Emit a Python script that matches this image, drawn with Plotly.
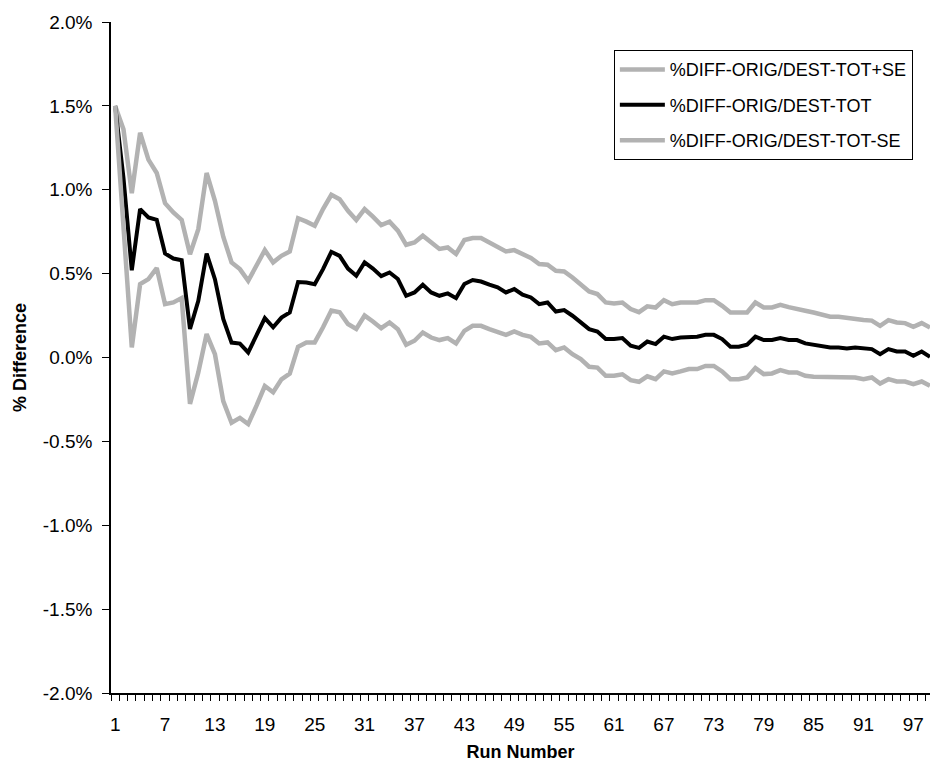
import plotly.graph_objects as go

runs = list(range(1, 100))

tot = [1.50, 1.07, 0.52, 0.885, 0.835, 0.82, 0.62, 0.59, 0.58, 0.17,
       0.338, 0.62, 0.467, 0.23, 0.089, 0.083, 0.03, 0.13, 0.235, 0.18,
       0.238, 0.268, 0.45, 0.447, 0.437, 0.527, 0.63, 0.606, 0.53, 0.487,
       0.567, 0.53, 0.485, 0.507, 0.468, 0.368, 0.388, 0.434, 0.388, 0.368,
       0.382, 0.354, 0.438, 0.462, 0.453, 0.434, 0.418, 0.388, 0.408, 0.374,
       0.358, 0.318, 0.328, 0.274, 0.283, 0.249, 0.209, 0.169, 0.155, 0.11,
       0.11, 0.116, 0.07, 0.057, 0.095, 0.08, 0.124, 0.11, 0.119, 0.124,
       0.124, 0.135, 0.135, 0.11, 0.064, 0.064, 0.076, 0.124, 0.104, 0.104,
       0.116, 0.104, 0.104, 0.084, 0.074, 0.07, 0.06, 0.06, 0.054, 0.06,
       0.057, 0.05, 0.02, 0.05, 0.036, 0.036, 0.01, 0.036, 0.004]

tot_plus_se = [1.50, 1.36, 0.98, 1.34, 1.18, 1.10, 0.92, 0.865, 0.82, 0.616,
               0.765, 1.10, 0.934, 0.72, 0.567, 0.527, 0.457, 0.547, 0.64, 0.567,
               0.606, 0.632, 0.83, 0.81, 0.785, 0.885, 0.97, 0.944, 0.875, 0.82,
               0.885, 0.84, 0.79, 0.81, 0.756, 0.672, 0.686, 0.726, 0.686, 0.647,
               0.656, 0.617, 0.70, 0.712, 0.712, 0.686, 0.66, 0.632, 0.64, 0.617,
               0.593, 0.557, 0.553, 0.517, 0.513, 0.477, 0.434, 0.394, 0.378, 0.328,
               0.322, 0.328, 0.289, 0.27, 0.305, 0.298, 0.342, 0.318, 0.328, 0.328,
               0.328, 0.342, 0.342, 0.308, 0.268, 0.268, 0.268, 0.328, 0.298, 0.298,
               0.314, 0.30, 0.292, 0.279, 0.268, 0.255, 0.243, 0.243, 0.235, 0.229,
               0.223, 0.22, 0.189, 0.223, 0.209, 0.205, 0.183, 0.205, 0.179]

tot_minus_se = [1.50, 0.78, 0.06, 0.437, 0.467, 0.533, 0.318, 0.328, 0.354, -0.276,
                -0.089, 0.14, 0.02, -0.26, -0.389, -0.36, -0.397, -0.287, -0.17, -0.207,
                -0.13, -0.096, 0.064, 0.09, 0.09, 0.18, 0.28, 0.27, 0.20, 0.17,
                0.25, 0.215, 0.175, 0.209, 0.169, 0.076, 0.10, 0.149, 0.119, 0.104,
                0.116, 0.084, 0.159, 0.189, 0.189, 0.169, 0.155, 0.135, 0.155, 0.135,
                0.123, 0.084, 0.09, 0.044, 0.06, 0.02, -0.01, -0.055, -0.06, -0.109,
                -0.109, -0.10, -0.135, -0.145, -0.112, -0.129, -0.083, -0.095, -0.083, -0.069,
                -0.069, -0.05, -0.05, -0.083, -0.129, -0.129, -0.119, -0.063, -0.099, -0.095,
                -0.075, -0.089, -0.089, -0.109, -0.115, -0.115, -0.115, -0.115, -0.115, -0.119,
                -0.129, -0.119, -0.155, -0.129, -0.143, -0.143, -0.159, -0.143, -0.169]

y_ticks = [-2.0, -1.5, -1.0, -0.5, 0.0, 0.5, 1.0, 1.5, 2.0]
y_tick_labels = ["%.1f%%" % v for v in y_ticks]
x_label_runs = list(range(1, 100, 6))

GRAY = "#b2b2b2"
FONT = "Arial, 'Liberation Sans', sans-serif"

fig = go.Figure()
fig.add_trace(go.Scatter(x=runs, y=tot_plus_se, mode="lines", name="%DIFF-ORIG/DEST-TOT+SE",
                         line=dict(color=GRAY, width=4.5), legendgroup="a"))
fig.add_trace(go.Scatter(x=runs, y=tot, mode="lines", name="%DIFF-ORIG/DEST-TOT",
                         line=dict(color="black", width=4), legendgroup="b"))
fig.add_trace(go.Scatter(x=runs, y=tot_minus_se, mode="lines", name="%DIFF-ORIG/DEST-TOT-SE",
                         line=dict(color=GRAY, width=4.5), legendgroup="c"))

fig.update_layout(
    width=930, height=769,
    margin=dict(l=111, r=0, t=22, b=76),
    paper_bgcolor="white", plot_bgcolor="white",
    font=dict(family=FONT, color="black", size=18),
    showlegend=True,
    legend=dict(x=0.614, y=0.958, xanchor="left", yanchor="top",
                bordercolor="black", borderwidth=1, bgcolor="white",
                font=dict(size=18, family=FONT), tracegroupgap=9,
                itemwidth=45, traceorder="grouped"),
    xaxis=dict(range=[0.5, 99.0], showgrid=False, zeroline=False,
               showline=True, linecolor="black", linewidth=1.5,
               tickmode="array", tickvals=x_label_runs,
               ticktext=[str(v) for v in x_label_runs],
               ticks="", tickfont=dict(size=19), ticklabelstandoff=13,
               minor=dict(tickmode="array", tickvals=[r + 0.5 for r in range(0, 99)],
                          ticks="outside", ticklen=6, tickwidth=1, tickcolor="black",
                          showgrid=False),
               title=dict(text="<b>Run Number</b>", font=dict(size=18), standoff=12)),
    yaxis=dict(range=[-2.0, 2.0], showgrid=False, zeroline=False,
               showline=True, linecolor="black", linewidth=1.5,
               tickmode="array", tickvals=y_ticks, ticktext=y_tick_labels,
               ticks="outside", ticklen=7, tickwidth=1, tickcolor="black",
               tickfont=dict(size=19), ticklabelstandoff=6,
               title=dict(text="<b>% Difference</b>", font=dict(size=18), standoff=12)),
)

fig.write_html("out.html")
